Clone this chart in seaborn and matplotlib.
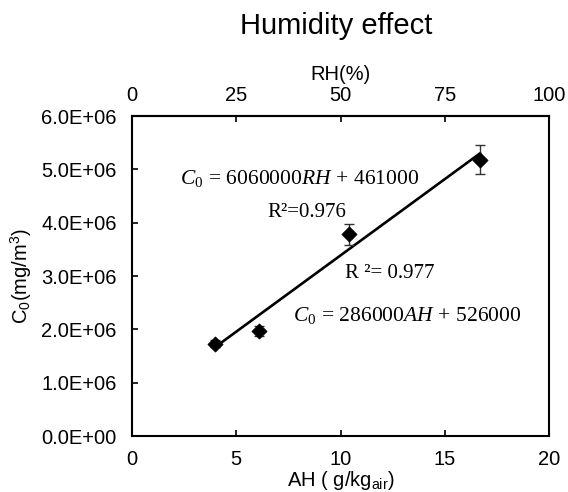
import numpy as np
import pandas as pd
import matplotlib
matplotlib.use("Agg")
import matplotlib.pyplot as plt
from matplotlib.ticker import FuncFormatter
import seaborn as sns

# Measured concentration vs. absolute humidity
ah_values = [4.0, 6.1, 10.4, 16.7]            # g/kg_air
c0_values = [1.73e6, 1.97e6, 3.78e6, 5.18e6]  # mg/m3
c0_errors = [0.07e6, 0.09e6, 0.20e6, 0.27e6]

# Linear fit reported on the chart
fit_slope = 286000
fit_intercept = 526000

x_ticks = [0, 5, 10, 15, 20]
rh_ticks = [0, 25, 50, 75, 100]
y_ticks = [0, 1e6, 2e6, 3e6, 4e6, 5e6, 6e6]

sns.set_style("ticks")
plt.rcParams["font.family"] = ["Liberation Sans", "DejaVu Sans"]
plt.rcParams["text.color"] = "black"
plt.rcParams["axes.labelcolor"] = "black"
plt.rcParams["mathtext.fontset"] = "custom"
plt.rcParams["mathtext.rm"] = "Liberation Serif"
plt.rcParams["mathtext.it"] = "Liberation Serif:italic"

df = pd.DataFrame({"AH": ah_values, "C0": c0_values, "err": c0_errors})
fit_x = np.array([min(ah_values), max(ah_values)])
fit_df = pd.DataFrame({"AH": fit_x, "C0": fit_slope * fit_x + fit_intercept})

fig = plt.figure(figsize=(5.68, 4.92), dpi=100)
ax = fig.add_axes([132 / 568, 1 - 436 / 492, 417 / 568, 320 / 492])

sns.lineplot(data=fit_df, x="AH", y="C0", ax=ax, color="black", linewidth=1.9, zorder=2)
ax.errorbar(df["AH"], df["C0"], yerr=df["err"], fmt="none", ecolor="#333333",
            elinewidth=1.0, capsize=3.5, capthick=1.0, zorder=3)
sns.scatterplot(data=df, x="AH", y="C0", ax=ax, marker="D", s=60, color="black",
                edgecolor="black", linewidth=0.5, zorder=4)

ax.set_xlim(0, 20)
ax.set_ylim(0, 6e6)
ax.set_xticks(x_ticks)
ax.set_yticks(y_ticks)
ax.yaxis.set_major_formatter(FuncFormatter(lambda v, p: f"{v:.1E}"))
ax.tick_params(axis="both", direction="in", length=4, width=1.2, labelsize=14.5,
               colors="black")
ax.tick_params(axis="x", pad=10)
ax.tick_params(axis="y", pad=11)
for s in ax.spines.values():
    s.set_linewidth(1.5)
    s.set_color("black")

ax.set_xlabel(r"AH ( g/kg$_\mathregular{air}$)", fontsize=14.5, labelpad=0)
ax.set_ylabel(r"C$_\mathregular{0}$(mg/m$^\mathregular{3}$)", fontsize=14.5, labelpad=5)

top = ax.secondary_xaxis("top", functions=(lambda x: x * 5, lambda r: r / 5))
top.set_xticks(rh_ticks)
top.tick_params(direction="in", length=4, width=1.2, labelsize=14.5, pad=8,
                colors="black")
top.set_xlabel("RH(%)", fontsize=14.5, labelpad=4)
top.spines["top"].set_linewidth(1.5)

fig.text(336 / 568, 1 - 26 / 492, "Humidity effect", fontsize=21, ha="center",
         va="center", color="black")

ax.text(2.3, 4.82e6, r"$C_0\,=\,6060000RH\,+\,461000$", fontsize=15.5, ha="left", va="center")
ax.text(6.47, 4.19e6, "R²=0.976", fontsize=15, family="Liberation Serif", ha="left", va="center")
ax.text(10.2, 3.05e6, "R ²= 0.977", fontsize=15, family="Liberation Serif", ha="left", va="center")
ax.text(7.72, 2.26e6, r"$C_0\,=\,286000AH\,+\,526000$", fontsize=15.5, ha="left", va="center")

fig.savefig("out.png", dpi=100)
